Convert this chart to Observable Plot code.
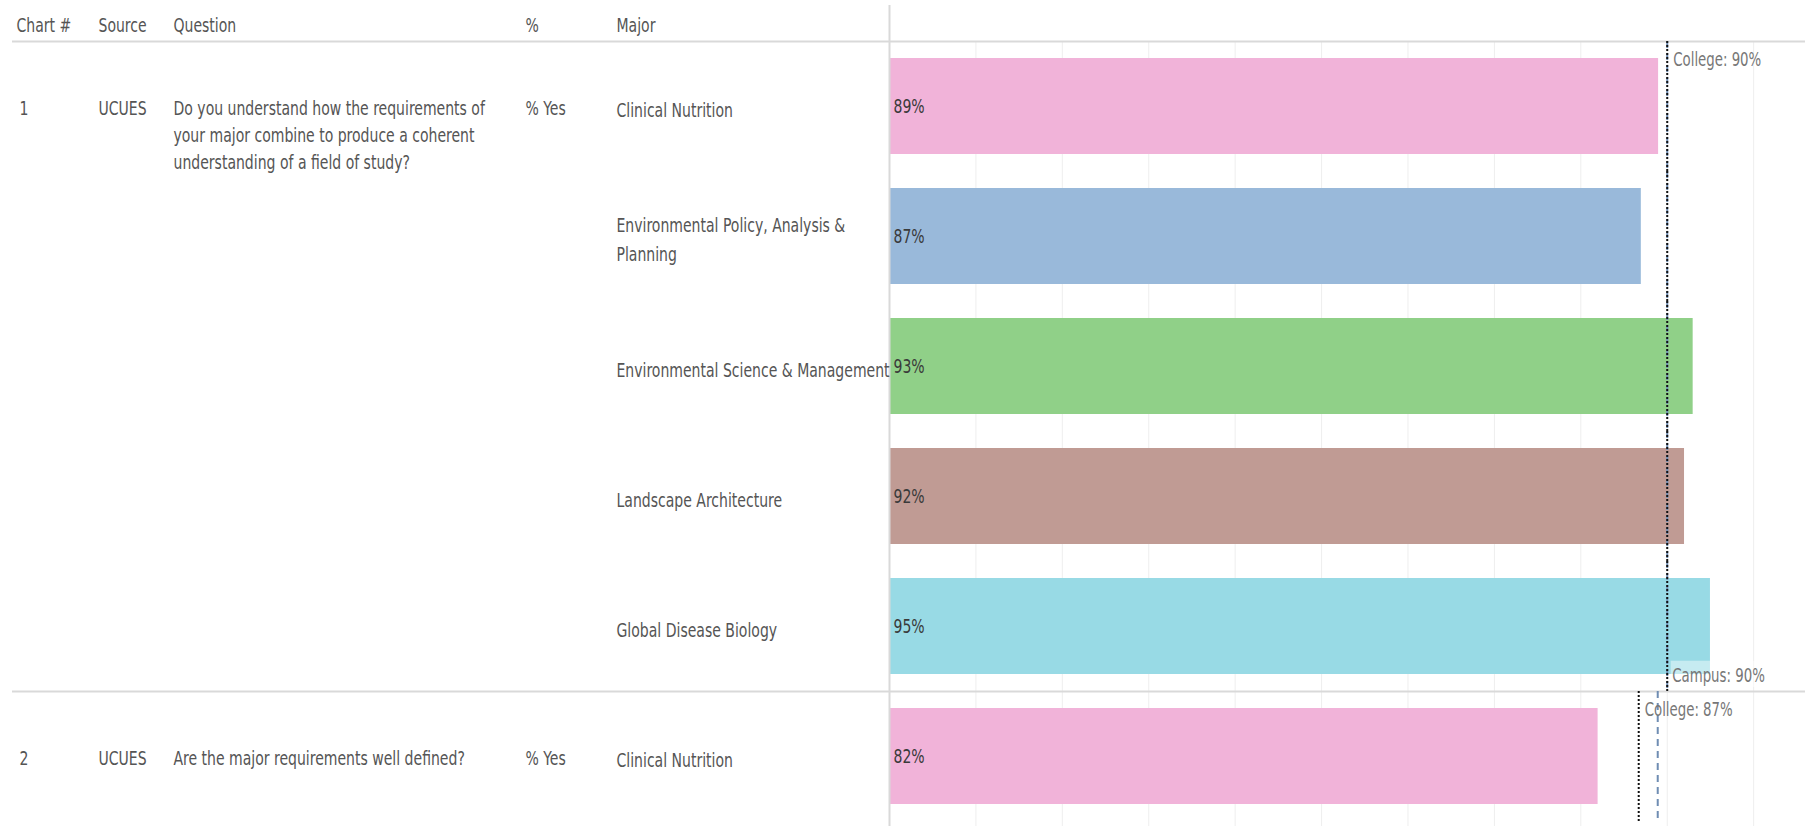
<!DOCTYPE html>
<html><head><meta charset="utf-8">
<script src="https://cdn.jsdelivr.net/npm/d3@7"></script>
<script src="https://cdn.jsdelivr.net/npm/@observablehq/plot@0.6"></script>
<style>
html,body{margin:0;padding:0;background:#fff;overflow:hidden;}
</style></head><body><div id="chart"></div>
<script>
// ---------- data ----------
const headers = ["Chart #", "Source", "Question", "%", "Major"];
const chartNums = ["1", "2"];
const sources = ["UCUES", "UCUES"];
const questions = [
  "Do you understand how the requirements of your major combine to produce a coherent understanding of a field of study?",
  "Are the major requirements well defined?"
];
const pctLabels = ["% Yes", "% Yes"];
const majorsChart1 = ["Clinical Nutrition", "Environmental Policy, Analysis & Planning", "Environmental Science & Management", "Landscape Architecture", "Global Disease Biology"];
const valuesChart1 = [89, 87, 93, 92, 95];
const majorsChart2 = ["Clinical Nutrition"];
const valuesChart2 = [82];
const collegeAvg = [90, 86.7];
const campusAvg = [90, 88.9];
const gridTicks = [10, 20, 30, 40, 50, 60, 70, 80, 90, 100];
const majorDomain = ["Clinical Nutrition", "Environmental Policy, Analysis & Planning", "Environmental Science & Management", "Landscape Architecture", "Global Disease Biology"];
const majorColors = ["#f1b3d9", "#99b9da", "#90d088", "#c09b94", "#98dae5"];

// ---------- tables built from the arrays ----------
const majorsByChart = [majorsChart1, majorsChart2];
const valuesByChart = [valuesChart1, valuesChart2];
const rows = [];
const groups = chartNums.map((c, i) => {
  const keys = majorsByChart[i].map((m, j) => {
    const key = c + "|" + m;
    rows.push({key, group: i, major: m, value: valuesByChart[i][j], college: collegeAvg[i], campus: campusAvg[i]});
    return key;
  });
  return {chart: c, source: sources[i], question: questions[i], pct: pctLabels[i],
          college: collegeAvg[i], campus: campusAvg[i], first: keys[0], last: keys[keys.length - 1]};
});

// ---------- layout ----------
const W = 1805, H = 826, ML = 889, MT = 41, MB = 5;
const step = (H - MT - MB) / rows.length;
const half = step / 2;
const padIn = 0.26;
const gapHalf = step * padIn / 2;
const colX = {chart: 16, source: 98, question: 173, pct: 525, major: 616};
const headerX = [16, 98, 173, 525, 616];
const FONT = "'DejaVu Sans Condensed', 'DejaVu Sans', sans-serif";
const SX = 0.78; // horizontal squeeze of the text to match the narrow reference face
const textGray = "#555";

const plot = Plot.plot({
  width: W, height: H,
  marginLeft: ML, marginRight: 0, marginTop: MT, marginBottom: MB,
  style: {fontFamily: FONT, fontSize: "20px", background: "#fff", overflow: "visible"},
  x: {domain: [0, 106], axis: null},
  y: {type: "band", domain: rows.map(d => d.key), paddingInner: padIn, paddingOuter: padIn / 2, axis: null},
  color: {domain: majorDomain, range: majorColors},
  marks: [
    Plot.ruleX(gridTicks, {stroke: "#eeeeee", strokeWidth: 1, insetBottom: -MB}),
    Plot.barX(rows, {x: "value", y: "key", fill: "major"}),
    // group separators and header line
    Plot.ruleY(groups, {y: "first", dy: -half, insetLeft: 12 - ML, stroke: "#d9d9d9", strokeWidth: 2}),
    // axis line
    Plot.ruleX([0], {stroke: "#d9d9d9", strokeWidth: 2, insetTop: -(MT - 5), insetBottom: -MB}),
    // reference lines
    Plot.tickX(rows, {x: "campus", y: "key", stroke: "#6f8db3", strokeWidth: 2, strokeDasharray: "7,5",
      insetTop: -gapHalf, insetBottom: -gapHalf}),
    Plot.tickX(rows, {x: "college", y: "key", stroke: "#111", strokeWidth: 2, strokeDasharray: "2,2",
      insetTop: -gapHalf, insetBottom: -gapHalf}),
    // header texts
    ...headers.map((h, i) => Plot.text([h], {text: d => d, frameAnchor: "top-left", textAnchor: "start", lineAnchor: "middle",
      dx: headerX[i] - ML, dy: 25 - MT, fill: textGray, fontSize: 20})),
    // group texts
    Plot.text(groups, {y: "first", text: "chart", frameAnchor: "left", textAnchor: "start", dx: colX.chart + 3 - ML, dy: 2, fill: textGray, fontSize: 20}),
    Plot.text(groups, {y: "first", text: "source", frameAnchor: "left", textAnchor: "start", dx: colX.source - ML, dy: 2, fill: textGray, fontSize: 20}),
    Plot.text(groups, {y: "first", text: "question", frameAnchor: "left", textAnchor: "start", lineAnchor: "top",
      lineWidth: 22.5, lineHeight: 1.35, dx: colX.question - ML, dy: -11, fill: textGray, fontSize: 20}),
    Plot.text(groups, {y: "first", text: "pct", frameAnchor: "left", textAnchor: "start", dx: colX.pct - ML, dy: 2, fill: textGray, fontSize: 20}),
    // major labels
    Plot.text(rows, {y: "key", text: "major", frameAnchor: "left", textAnchor: "start", lineWidth: 19.3, lineHeight: 1.45,
      dx: colX.major - ML, dy: 1, fill: textGray, fontSize: 20}),
    // bar value labels
    Plot.text(rows, {y: "key", text: d => d.value + "%", frameAnchor: "left", textAnchor: "start", dx: 4, dy: 0, fill: "#3a3a3a", fontSize: 20}),
    // reference labels
    Plot.text(groups, {x: "college", y: "first", text: d => `College: ${Math.round(d.college)}%`, textAnchor: "start",
      dx: 6, dy: -half + 18, fill: "#777", fontSize: 19}),
    Plot.text(groups.slice(0, -1), {x: "campus", y: "last", text: d => `Campus: ${Math.round(d.campus)}%`, textAnchor: "start",
      dx: 5, dy: half - 16, fill: "#777", fontSize: 19})
  ]
});
document.getElementById("chart").appendChild(plot);

// squeeze every text horizontally around its own anchor (appended after Plot's translate)
d3.select(plot).selectAll("text").each(function () {
  const tr = this.getAttribute("transform") || "";
  this.setAttribute("transform", `${tr} scale(${SX},1)`);
});

// light background behind campus labels (as in the reference)
d3.select(plot).selectAll("text").each(function () {
  const t = this.textContent || "";
  if (t.startsWith("Campus:")) {
    const b = this.getBBox();
    const tr = this.getAttribute("transform") || "";
    d3.select(this.parentNode).insert("rect", () => this)
      .attr("transform", tr)
      .attr("x", b.x - 2).attr("y", b.y - 3).attr("width", b.width + 4).attr("height", b.height + 4)
      .attr("fill", "#fff").attr("fill-opacity", 0.45).attr("stroke", "none");
  }
});
</script>
</body></html>
